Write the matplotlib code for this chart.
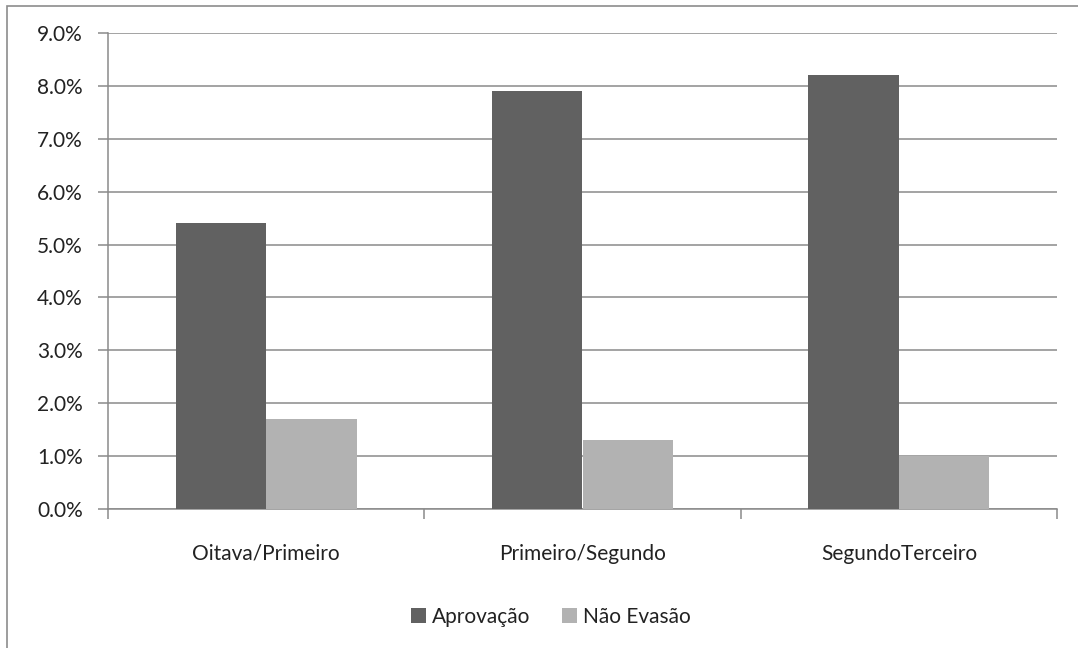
import matplotlib
matplotlib.use("Agg")
import matplotlib.pyplot as plt
from matplotlib.patches import Rectangle
from matplotlib.ticker import FuncFormatter, FixedLocator
import numpy as np

categories = ["Oitava/Primeiro", "Primeiro/Segundo", "SegundoTerceiro"]
aprovacao = [5.4, 7.9, 8.2]
nao_evasao = [1.7, 1.3, 1.0]
series_names = ["Aprovação", "Não Evasão"]
yticks = [0, 1, 2, 3, 4, 5, 6, 7, 8, 9]

dark = "#616161"
light = "#b2b2b2"
gridc = "#8a8a8a"

plt.rcParams['font.family'] = ['Lato', 'DejaVu Sans']

W, H = 1078, 648
fig = plt.figure(figsize=(W / 100, H / 100), dpi=100)
fig.patch.set_facecolor("white")
fig.patches.append(Rectangle((7 / W, -0.2), 1.2, (H - 6) / H + 0.2, transform=fig.transFigure,
                             fill=False, edgecolor="#8c8c8c", linewidth=1.2))

ax = fig.add_axes([108 / W, (H - 509) / H, (1057 - 108) / W, (509 - 33) / H])
x = np.arange(len(categories))
bw = 1 / 3.5
ax.bar(x - bw / 2, aprovacao, width=bw, color=dark, label=series_names[0], zorder=3)
ax.bar(x + bw / 2, nao_evasao, width=bw, color=light, label=series_names[1], zorder=3)

ax.set_xlim(-0.5, len(categories) - 0.5)
ax.set_ylim(0, 9)
ax.yaxis.set_major_locator(FixedLocator(yticks))
ax.yaxis.set_major_formatter(FuncFormatter(lambda v, p: f"{v:.1f}%"))
ax.grid(axis="y", color=gridc, linewidth=1.1, zorder=0)

ax.set_xticks(x)
ax.set_xticklabels(categories)
ax.set_xticks(np.arange(len(categories) + 1) - 0.5, minor=True)
ax.tick_params(axis="x", which="major", length=0, pad=25, labelsize=15, colors="#222222")
ax.tick_params(axis="x", which="minor", length=7, width=1.1, color=gridc, direction="out")
ax.tick_params(axis="y", length=7, width=1.1, color=gridc, labelsize=15, pad=11, labelcolor="#222222")

for s in ["top", "right"]:
    ax.spines[s].set_visible(False)
for s in ["left", "bottom"]:
    ax.spines[s].set_color(gridc)
    ax.spines[s].set_linewidth(1.1)

fig.legend(loc="center", bbox_to_anchor=(551 / W, (H - 617) / H), ncol=2, frameon=False,
           fontsize=15, handlelength=0.7, handleheight=0.7, handletextpad=0.3,
           columnspacing=1.5, labelcolor="#222222")

fig.savefig("out.png", dpi=100, facecolor="white")
